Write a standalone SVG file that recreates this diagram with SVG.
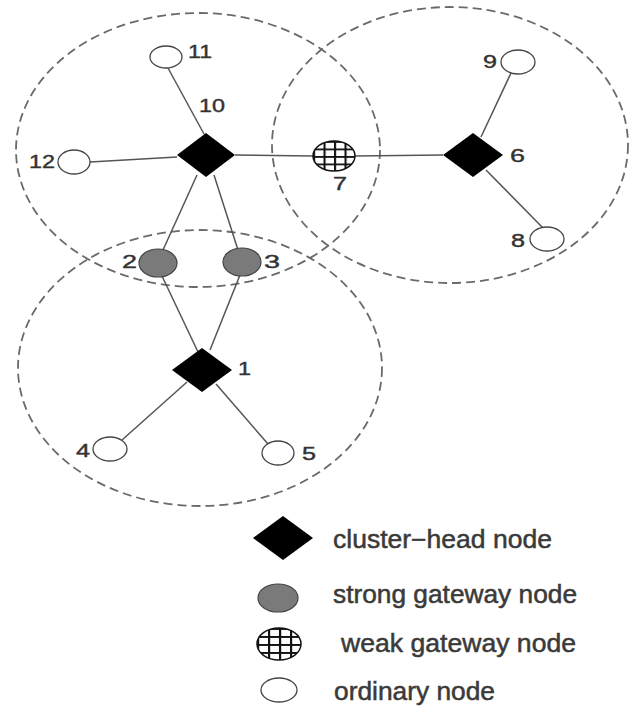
<svg xmlns="http://www.w3.org/2000/svg" width="629" height="707" viewBox="0 0 629 707">
<defs>
<pattern id="grid" patternUnits="objectBoundingBox" width="0.25" height="0.25" patternContentUnits="objectBoundingBox">
<rect x="0" y="0" width="0.25" height="0.25" fill="#fff"/>
<rect x="0" y="0" width="0.05" height="0.25" fill="#111"/>
<rect x="0" y="0" width="0.25" height="0.06" fill="#111"/>
</pattern>
<style>
.range{fill:none;stroke:#6a6a6a;stroke-width:1.8;stroke-dasharray:9 5}
.edge{stroke:#555;stroke-width:1.5;fill:none}
.head{fill:#000}
.strong{fill:#7a7a7a;stroke:#444;stroke-width:1.2}
.weak{fill:url(#grid);stroke:#111;stroke-width:1.5}
.ord{fill:#fff;stroke:#444;stroke-width:1.3}
.lbl{font-family:"Liberation Sans",Arial,sans-serif;font-size:18px;fill:#333;stroke:#333;stroke-width:0.4}
.leg{font-family:"Liberation Sans",Arial,sans-serif;font-size:25px;fill:#3a3a3a;stroke:#3a3a3a;stroke-width:0.5}
</style>
</defs>
<rect width="629" height="707" fill="#fff"/>
<g id="ranges">
<ellipse class="range" cx="198" cy="150" rx="182" ry="137"/>
<ellipse class="range" cx="450" cy="145" rx="178" ry="138"/>
<ellipse class="range" cx="200" cy="368" rx="182" ry="138"/>
</g>
<g id="connectors">
<line class="edge" x1="168" y1="68" x2="204" y2="134"/>
<line class="edge" x1="90" y1="162" x2="177" y2="157"/>
<line class="edge" x1="235" y1="155" x2="313" y2="156"/>
<line class="edge" x1="355" y1="156" x2="443" y2="155"/>
<line class="edge" x1="197" y1="175" x2="163" y2="250"/>
<line class="edge" x1="214" y1="175" x2="238" y2="250"/>
<line class="edge" x1="162" y1="276" x2="198" y2="352"/>
<line class="edge" x1="240" y1="275" x2="210" y2="350"/>
<line class="edge" x1="187" y1="382" x2="122" y2="440"/>
<line class="edge" x1="216" y1="384" x2="268" y2="444"/>
<line class="edge" x1="481" y1="137" x2="511" y2="73"/>
<line class="edge" x1="486" y1="170" x2="544" y2="229"/>
</g>
<g id="node10"><polygon class="head" points="177,155 206,133 235,155 206,177"/><text class="lbl" x="199" y="112" textLength="26" lengthAdjust="spacingAndGlyphs">10</text></g>
<g id="node11"><ellipse class="ord" cx="166" cy="57" rx="16" ry="11"/><text class="lbl" x="188" y="58" textLength="24" lengthAdjust="spacingAndGlyphs">11</text></g>
<g id="node12"><ellipse class="ord" cx="74" cy="162" rx="16" ry="12"/><text class="lbl" x="29" y="168" textLength="26" lengthAdjust="spacingAndGlyphs">12</text></g>
<g id="node7"><ellipse class="weak" cx="334" cy="156" rx="21" ry="15"/><text class="lbl" x="333" y="190" textLength="14" lengthAdjust="spacingAndGlyphs">7</text></g>
<g id="node6"><polygon class="head" points="443,155 473,133 503,155 473,177"/><text class="lbl" x="510" y="162" textLength="15" lengthAdjust="spacingAndGlyphs">6</text></g>
<g id="node9"><ellipse class="ord" cx="518" cy="62" rx="17" ry="12"/><text class="lbl" x="483" y="68" textLength="14" lengthAdjust="spacingAndGlyphs">9</text></g>
<g id="node8"><ellipse class="ord" cx="547" cy="239" rx="17" ry="12"/><text class="lbl" x="511" y="247" textLength="14" lengthAdjust="spacingAndGlyphs">8</text></g>
<g id="node2"><ellipse class="strong" cx="158" cy="263" rx="19" ry="14"/><text class="lbl" x="122" y="268" textLength="15" lengthAdjust="spacingAndGlyphs">2</text></g>
<g id="node3"><ellipse class="strong" cx="242" cy="262" rx="19" ry="14"/><text class="lbl" x="264" y="268" textLength="16" lengthAdjust="spacingAndGlyphs">3</text></g>
<g id="node1"><polygon class="head" points="172,370 202,348 232,370 202,392"/><text class="lbl" x="238" y="375" textLength="13" lengthAdjust="spacingAndGlyphs">1</text></g>
<g id="node4"><ellipse class="ord" cx="110" cy="449" rx="17" ry="12"/><text class="lbl" x="76" y="457" textLength="14" lengthAdjust="spacingAndGlyphs">4</text></g>
<g id="node5"><ellipse class="ord" cx="278" cy="453" rx="16" ry="12"/><text class="lbl" x="302" y="460" textLength="14" lengthAdjust="spacingAndGlyphs">5</text></g>
<g id="legend">
<polygon class="head" points="253,538 283,516 313,538 283,560"/>
<text class="leg" x="333" y="548" textLength="219" lengthAdjust="spacingAndGlyphs">cluster−head node</text>
<ellipse class="strong" cx="278" cy="598" rx="20" ry="14"/>
<text class="leg" x="333" y="603" textLength="244" lengthAdjust="spacingAndGlyphs">strong gateway node</text>
<ellipse class="weak" cx="279" cy="644" rx="22" ry="16"/>
<text class="leg" x="341" y="652" textLength="235" lengthAdjust="spacingAndGlyphs">weak gateway node</text>
<ellipse class="ord" cx="279" cy="690" rx="18" ry="12"/>
<text class="leg" x="334" y="700" textLength="161" lengthAdjust="spacingAndGlyphs">ordinary node</text>
</g>
</svg>
